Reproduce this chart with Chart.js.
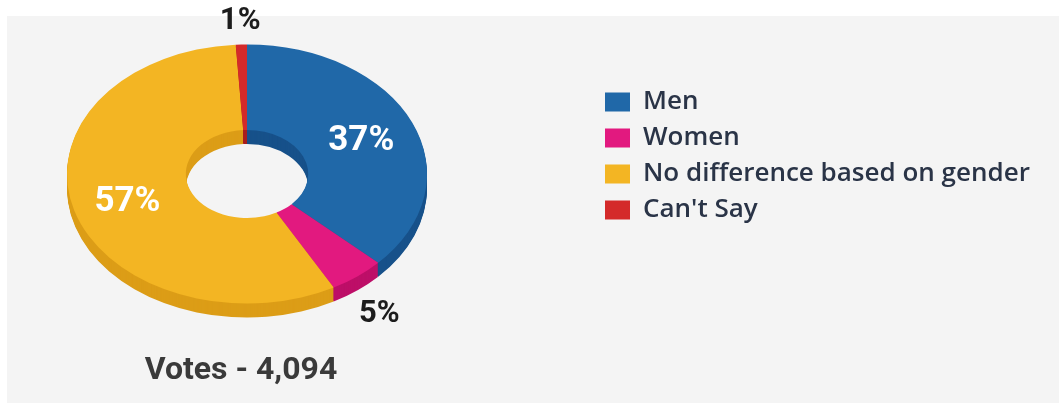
<!DOCTYPE html>
<html>
<head>
<meta charset="utf-8">
<script src="https://cdn.jsdelivr.net/npm/chart.js@4/dist/chart.umd.min.js"></script>
<style>
  html, body { margin: 0; padding: 0; background: #f4f4f4; }
  #wrap { width: 1059px; height: 403px; }
</style>
</head>
<body>
<div id="wrap"><canvas id="genderChart" width="1059" height="403"></canvas></div>
<script>
const categories = ["Men", "Women", "No difference based on gender", "Can't Say"];
const shares = [37, 5, 57, 1];
const faceColors = ["#2068a8", "#e2197f", "#f3b523", "#d42a2a"];
const sideColors = ["#17518a", "#bd0f68", "#dc9d17", "#a81d1d"];
const voteCount = "4,094";

// tilted ring: where the ring sits, how wide it is, how flat, how thick
const ring = { cx: 247, cy: 174, rx: 180, flat: 0.72, depth: 14 };
const numberFont = "Roboto, sans-serif";

function tilt(ctx, arc) {
    const s = ring.rx / arc.outerRadius;
    ctx.translate(ring.cx, ring.cy);
    ctx.scale(s, s * ring.flat);
    ctx.translate(-arc.x, -arc.y);
}

function ringPath(ctx, arc) {
    ctx.beginPath();
    ctx.arc(arc.x, arc.y, arc.outerRadius, arc.startAngle, arc.endAngle);
    ctx.arc(arc.x, arc.y, arc.innerRadius, arc.endAngle, arc.startAngle, true);
    ctx.closePath();
}

const tiltedRing = {
    id: "tiltedRing",
    beforeDraw(chart) {
        const c = chart.ctx;
        c.save();
        c.fillStyle = "#f4f4f4";
        c.fillRect(0, 0, chart.width, chart.height);
        c.fillStyle = "#ffffff";
        c.fillRect(0, 0, chart.width, 16);
        c.fillRect(0, 0, 7, chart.height);
        c.restore();
    },
    afterLayout(chart) {
        chart.legend.left = 595;
        chart.legend.top = 79;
        chart.titleBlock.left = 91;
        chart.titleBlock.right = 391;
        chart.titleBlock.top = 352;
    },
    beforeDatasetsDraw(chart) {
        const c = chart.ctx;
        const arcs = chart.getDatasetMeta(0).data;
        // stacked copies below the top face make the side walls
        for (let d = ring.depth; d >= 1; d--) {
            arcs.forEach((arc, i) => {
                c.save();
                c.translate(0, d);
                tilt(c, arc);
                ringPath(c, arc);
                c.fillStyle = sideColors[i];
                c.fill();
                c.restore();
            });
        }
        c.save();
        tilt(c, arcs[0]);
    },
    afterDatasetsDraw(chart) {
        const c = chart.ctx;
        c.restore();
        const arcs = chart.getDatasetMeta(0).data;
        c.save();
        c.textAlign = "center";
        c.textBaseline = "middle";
        arcs.forEach((arc, i) => {
            const value = chart.data.datasets[0].data[i];
            const mid = (arc.startAngle + arc.endAngle) / 2;
            const s = ring.rx / arc.outerRadius;
            const inside = value >= 10;
            const r = inside ? (arc.innerRadius + arc.outerRadius) / 2 + 4 : arc.outerRadius * 1.2;
            let x = ring.cx + s * r * Math.cos(mid);
            let y = ring.cy + s * ring.flat * r * Math.sin(mid) + 3;
            if (!inside && Math.sin(mid) > 0) y += ring.depth;
            c.fillStyle = inside ? "#ffffff" : "#1c1c1c";
            c.font = "bold " + (inside ? 35 : 31) + "px " + numberFont;
            c.fillText(value + "%", x, y);
        });
        c.restore();
    }
};

new Chart(document.getElementById("genderChart"), {
    type: "doughnut",
    data: {
        labels: categories,
        datasets: [{
            data: shares,
            backgroundColor: faceColors,
            borderWidth: 0,
            clip: false
        }]
    },
    options: {
        responsive: false,
        animation: false,
        events: [],
        cutout: "34%",
        plugins: {
            legend: {
                position: "right",
                align: "start",
                labels: {
                    boxWidth: 25,
                    boxHeight: 19,
                    padding: 10,
                    color: "#2a3447",
                    font: { family: "'Open Sans'", size: 26, weight: "600" }
                }
            },
            title: {
                display: true,
                position: "bottom",
                fullSize: false,
                text: "Votes - " + voteCount,
                color: "#3a3a3a",
                padding: 0,
                font: { family: numberFont, size: 32, weight: "bold" }
            },
            tooltip: { enabled: false }
        }
    },
    plugins: [tiltedRing]
});
</script>
</body>
</html>
